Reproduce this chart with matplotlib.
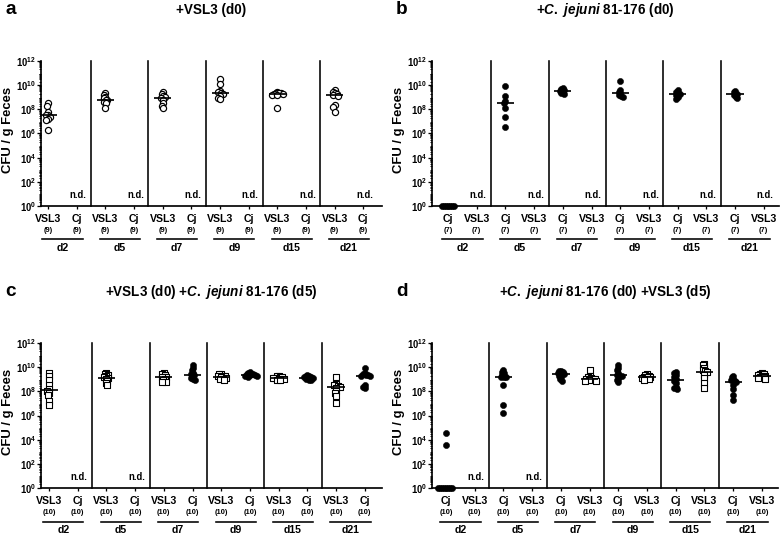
import numpy as np
import matplotlib
matplotlib.use("Agg")
import matplotlib.pyplot as plt
from matplotlib import transforms
from matplotlib.ticker import FixedLocator, LogLocator, NullFormatter, FuncFormatter

# ---------------- data (log10 CFU / g feces; None = not detected) ----------------
days = ["d2", "d5", "d7", "d9", "d15", "d21"]

# panel a: +VSL3 (d0)
a_groups = ["VSL3", "Cj"]
a_counts = ["(9)", "(9)"]
a_vsl3 = [
    [8.50, 8.28, 7.81, 7.53, 7.53, 7.39, 7.20, 7.12, 6.29],
    [9.32, 9.19, 9.05, 8.90, 8.77, 8.77, 8.63, 8.50, 8.08],
    [9.46, 9.27, 9.10, 9.05, 8.97, 8.77, 8.50, 8.28, 8.08],
    [10.51, 10.07, 9.50, 9.41, 9.32, 9.27, 9.10, 8.97, 8.83],
    [9.46, 9.38, 9.32, 9.32, 9.27, 9.27, 9.22, 9.16, 8.08],
    [9.60, 9.46, 9.32, 9.27, 9.19, 9.10, 8.36, 8.17, 7.81],
]
a_cj = [None, None, None, None, None, None]

# panel b: +C. jejuni 81-176 (d0)
b_groups = ["Cj", "VSL3"]
b_counts = ["(7)", "(7)"]
b_cj = [
    [0, 0, 0, 0, 0, 0, 0],
    [9.93, 9.11, 8.69, 8.53, 8.11, 7.37, 6.54],
    [9.75, 9.70, 9.60, 9.54, 9.45, 9.35, 9.30],
    [10.34, 9.60, 9.45, 9.32, 9.20, 9.10, 9.05],
    [9.60, 9.45, 9.30, 9.24, 9.15, 9.00, 8.85],
    [9.55, 9.40, 9.30, 9.24, 9.15, 9.05, 8.95],
]
b_vsl3 = [None, None, None, None, None, None]

# panel c: +VSL3 (d0) +C. jejuni 81-176 (d5)
c_groups = ["VSL3", "Cj"]
c_counts = ["(10)", "(10)"]
c_vsl3 = [
    [9.53, 9.26, 8.93, 8.52, 8.16, 8.05, 7.88, 7.69, 7.23, 6.87],
    [9.53, 9.45, 9.35, 9.25, 9.15, 9.10, 9.00, 8.85, 8.70, 8.52],
    [9.50, 9.45, 9.35, 9.20, 9.15, 9.15, 9.00, 8.90, 8.80, 8.75],
    [9.45, 9.40, 9.30, 9.27, 9.25, 9.20, 9.10, 9.05, 9.00, 8.95],
    [9.30, 9.25, 9.20, 9.15, 9.12, 9.10, 9.05, 9.00, 8.95, 8.90],
    [9.20, 8.57, 8.50, 8.45, 8.40, 8.30, 8.05, 7.88, 7.60, 7.06],
]
c_cj = [
    None,
    None,
    [10.22, 9.97, 9.75, 9.48, 9.40, 9.32, 9.20, 9.10, 9.00, 8.93],
    [9.62, 9.55, 9.45, 9.42, 9.40, 9.38, 9.35, 9.30, 9.28, 9.22],
    [9.35, 9.30, 9.25, 9.20, 9.15, 9.12, 9.08, 9.00, 8.95, 8.90],
    [9.95, 9.48, 9.40, 9.35, 9.32, 9.30, 9.28, 8.52, 8.38, 8.24],
]

# panel d: +C. jejuni 81-176 (d0) +VSL3 (d5)
d_groups = ["Cj", "VSL3"]
d_counts = ["(10)", "(10)"]
d_cj = [
    [4.53, 3.57, 0, 0, 0, 0, 0, 0, 0, 0],
    [9.75, 9.60, 9.50, 9.35, 9.22, 9.20, 9.15, 8.52, 6.87, 6.24],
    [9.70, 9.65, 9.60, 9.50, 9.45, 9.40, 9.30, 9.20, 9.00, 8.87],
    [10.22, 9.89, 9.75, 9.48, 9.38, 9.30, 9.25, 9.05, 8.93, 8.79],
    [9.62, 9.48, 9.34, 9.20, 8.98, 8.88, 8.65, 8.38, 8.24, 8.16],
    [9.26, 9.15, 9.00, 8.90, 8.82, 8.76, 8.50, 8.20, 7.69, 7.28],
]
d_vsl3 = [
    None,
    None,
    [9.75, 9.27, 9.16, 9.08, 9.05, 9.03, 8.98, 8.93, 8.87, 8.87],
    [9.40, 9.35, 9.30, 9.20, 9.15, 9.15, 9.10, 9.05, 9.00, 8.95],
    [10.30, 10.16, 9.95, 9.75, 9.67, 9.57, 9.35, 9.07, 8.65, 8.24],
    [9.50, 9.45, 9.40, 9.35, 9.30, 9.25, 9.20, 9.15, 9.10, 9.05],
]

y_tick_exponents = [0, 2, 4, 6, 8, 10, 12]

# ---------------- style ----------------
plt.rcParams.update({
    "font.family": ["Liberation Sans", "DejaVu Sans"],
    "font.weight": "bold",
    "mathtext.fontset": "custom",
    "mathtext.rm": "Liberation Sans:bold",
    "mathtext.bf": "Liberation Sans:bold",
    "mathtext.it": "Liberation Sans:italic:bold",
    "mathtext.default": "bf",
})

W, H, DPI = 782, 536, 72
fig = plt.figure(figsize=(W / DPI, H / DPI), dpi=DPI)

STYLES = {
    "open_circle": dict(marker="o", s=38, facecolor="white", edgecolor="black", linewidths=1.2),
    "filled_circle": dict(marker="o", s=38, facecolor="black", edgecolor="black", linewidths=0.5),
    "open_square": dict(marker="s", s=30, facecolor="white", edgecolor="black", linewidths=1.1),
}


def swarm(vals_px, ax_r=1.9, ay_r=3.0):
    order = np.argsort(vals_px)[::-1]
    placed = []
    offs = np.zeros(len(vals_px))
    for i in order:
        y = vals_px[i]
        cands = [0.0]
        for (px, py) in placed:
            dy = (py - y) / ay_r
            if abs(dy) < 1:
                dx = np.sqrt(1 - dy ** 2) * ax_r
                cands += [px + dx, px - dx]
        cands = sorted(cands, key=lambda c: (abs(c), c))
        chosen = cands[-1]
        for c in cands:
            if all(((c - px) / ax_r) ** 2 + ((y - py) / ay_r) ** 2 >= 1 - 1e-6 for px, py in placed):
                chosen = c
                break
        offs[i] = chosen
        placed.append((chosen, y))
    return offs


def draw_panel(box, xlim, letter, title, groups, counts, series, styles):
    left, right, top, bottom = box
    ax = fig.add_axes([left / W, 1 - bottom / H, (right - left) / W, (bottom - top) / H])
    ax.set_yscale("log")
    ax.set_ylim(1, 1e12)
    ax.set_xlim(*xlim)
    for sp in ("top", "right"):
        ax.spines[sp].set_visible(False)
    for sp in ("left", "bottom"):
        ax.spines[sp].set_linewidth(1.7)

    ax.yaxis.set_major_locator(FixedLocator([10.0 ** e for e in y_tick_exponents]))
    ax.yaxis.set_major_formatter(FuncFormatter(lambda v, p: r"$10^{%d}$" % round(np.log10(v))))
    ax.yaxis.set_minor_locator(LogLocator(base=10, subs=np.arange(2, 10), numticks=100))
    ax.yaxis.set_minor_formatter(NullFormatter())
    ax.tick_params(axis="y", which="major", length=4, width=1.3, labelsize=9.5, pad=1)
    ax.tick_params(axis="y", which="minor", length=2.2, width=0.9)

    ncat = len(days) * 2
    ax.set_xticks(np.arange(ncat))
    ax.set_xticklabels([""] * ncat)
    ax.tick_params(axis="x", length=3, width=1.3)

    px_w = (right - left) / (xlim[1] - xlim[0])
    px_dec = (bottom - top) / 12.0

    for k in range(len(days) - 1):
        ax.axvline(2 * k + 1.5, color="black", lw=1.6, ymin=0, ymax=1.0, clip_on=False)

    for k, day in enumerate(days):
        for j in range(2):
            x = 2 * k + j
            vals = series[j][k]
            if vals is None:
                ax.annotate("n.d.", xy=(x + 0.05, 0), xycoords=("data", "axes fraction"),
                            xytext=(0, 11), textcoords="offset points", ha="center", va="center",
                            fontsize=9.5, fontweight="bold", annotation_clip=False)
                continue
            v = np.array(vals, dtype=float)
            offs = swarm(v * px_dec) / px_w
            ax.scatter(x + offs, 10.0 ** v, clip_on=False, zorder=3, **STYLES[styles[j]])
            med = np.median(v)
            ax.hlines(10.0 ** med, x - 0.3, x + 0.3, color="black", lw=1.7, zorder=4, clip_on=False)

        for j in range(2):
            x = 2 * k + j
            ax.annotate(groups[j], xy=(x, 0), xycoords=("data", "axes fraction"),
                        xytext=(0, -13.5), textcoords="offset points", ha="center", va="center",
                        fontsize=10.5, fontweight="bold", annotation_clip=False)
            ax.annotate(counts[j], xy=(x, 0), xycoords=("data", "axes fraction"),
                        xytext=(0, -25), textcoords="offset points", ha="center", va="center",
                        fontsize=7.5, fontweight="bold", annotation_clip=False)
        trans = ax.get_xaxis_transform() + transforms.ScaledTranslation(0, -33.5 / DPI, fig.dpi_scale_trans)
        ax.plot([2 * k - 0.2, 2 * k + 1.2], [0, 0], transform=trans, color="black", lw=1.6, clip_on=False)
        ax.annotate(day, xy=(2 * k + 0.5, 0), xycoords=("data", "axes fraction"),
                    xytext=(0, -42), textcoords="offset points", ha="center", va="center",
                    fontsize=10.5, fontweight="bold", annotation_clip=False)

    cx = (left + right) / 2
    fig.text(cx / W, 1 - (top - 51) / H, title, ha="center", va="center", fontsize=13.5, fontweight="bold")
    fig.text((left - 30) / W, 1 - (top - 51) / H, letter, ha="center", va="center", fontsize=19, fontweight="bold")
    fig.text((left - 33) / W, 1 - (top + 69) / H, "CFU / g Feces", rotation=90, ha="center", va="center",
             fontsize=13, fontweight="bold")
    return ax


draw_panel((41, 382, 61, 206), (-0.25, 11.65), "a", "+VSL3 (d0)",
           a_groups, a_counts, [a_vsl3, a_cj], ["open_circle", "open_circle"])
draw_panel((432, 779, 61, 206), (-0.56, 11.53), "b", r"+$\mathit{C.\ jejuni}$ 81-176 (d0)",
           b_groups, b_counts, [b_cj, b_vsl3], ["filled_circle", "filled_circle"])
draw_panel((41, 382, 343, 488), (-0.28, 11.60), "c", r"+VSL3 (d0) +$\mathit{C.\ jejuni}$ 81-176 (d5)",
           c_groups, c_counts, [c_vsl3, c_cj], ["open_square", "filled_circle"])
draw_panel((432, 778, 343, 488), (-0.49, 11.56), "d", r"+$\mathit{C.\ jejuni}$ 81-176 (d0) +VSL3 (d5)",
           d_groups, d_counts, [d_cj, d_vsl3], ["filled_circle", "open_square"])

fig.savefig("out.png", dpi=DPI, facecolor="white")
